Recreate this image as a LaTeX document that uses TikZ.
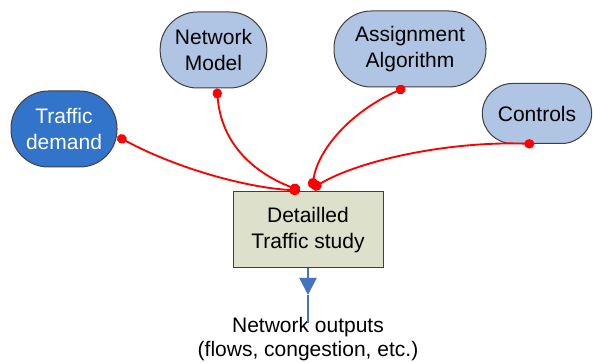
\documentclass[tikz,border=0pt]{standalone}
\usepackage{fontspec}
\setmainfont{Liberation Sans}
\usetikzlibrary{arrows.meta,calc}
\definecolor{paleblue}{RGB}{176,196,228}
\definecolor{deepblue}{RGB}{50,116,202}
\definecolor{studyfill}{RGB}{221,224,203}
\definecolor{outline}{RGB}{64,64,64}
\definecolor{flowblue}{RGB}{70,114,196}
\tikzset{
  txt/.style={font=\fontsize{15.75}{19.5}\selectfont, align=center, inner sep=0pt},
  pill/.style={txt, draw=outline, line width=0.75pt, fill=paleblue, rounded corners=#1},
  pill/.default=28pt,
  studybox/.style={txt, draw=outline, line width=0.75pt, fill=studyfill,
    minimum width=112.5pt, minimum height=57pt},
  link/.style={red, line width=1.4pt, {Circle[length=7.5pt,width=7pt]}-{Circle[length=8pt,width=7.5pt]}},
}
\begin{document}
\begin{tikzpicture}[x=0.75pt,y=-0.75pt]
\useasboundingbox (0,0) rectangle (593,363);

% input modules
\node[pill, fill=deepblue, text=white, minimum width=79.5pt, minimum height=57pt] (demand) at (64,129) {Traffic\\demand};
\node[pill, minimum width=80pt, minimum height=57pt] (netmodel) at (213.5,50) {Network\\Model};
\node[pill, minimum width=114pt, minimum height=57pt] (assign) at (410,49) {Assignment\\Algorithm};
\node[pill=22.5pt, minimum width=82pt, minimum height=45pt] (controls) at (537,113.5) {Controls};

% central study
\node[studybox] (study) at (308,230) {Detailled\\Traffic study};

% output label
\node[font=\fontsize{15.75}{18}\selectfont, align=center, inner sep=0pt] (outputs) at (308,339) {Network outputs\\(flows, congestion, etc.)};

% red links into the study
\coordinate (inA) at ($(study.north)+(-8,-1)$);
\coordinate (inB) at ($(study.north)+(4,-3)$);
\draw[link] (demand.-8) .. controls (180,170) and (250,188) .. (inA);
\draw[link] (netmodel.-85) .. controls (222,150) and (262,176) .. (inA);
\draw[link] (assign.-97) .. controls (350,112) and (318,150) .. (inB);
\draw[link] (controls.-95) .. controls (450,141) and (360,160) .. (inB);

% output flow
\coordinate (mid) at (308,295);
\coordinate (tail) at (308,323);
\draw[flowblue, line width=1.5pt, -{Triangle[length=12.75pt,width=12.75pt]}] (study.south) -- (mid);
\draw[flowblue, line width=1.5pt] (mid) -- (tail);
\end{tikzpicture}
\end{document}
